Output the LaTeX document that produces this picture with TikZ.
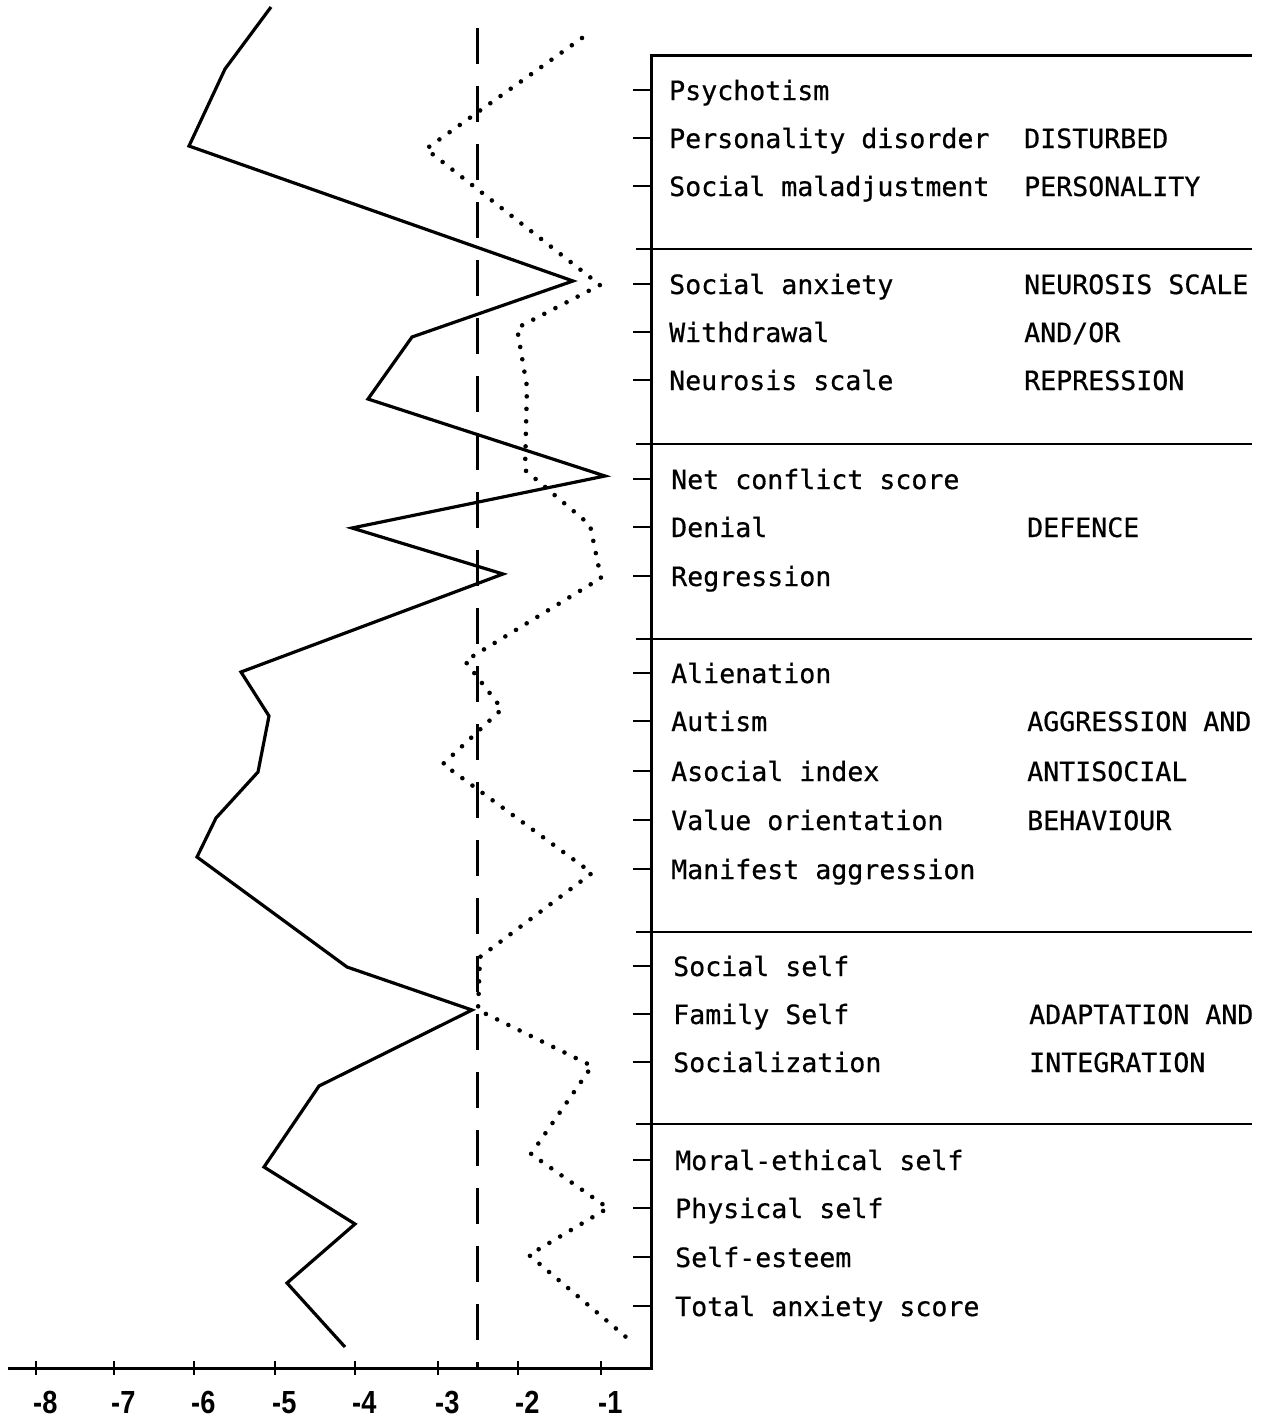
\documentclass[tikz,border=0pt]{standalone}
\usepackage{fontspec}
\newfontfamily\monof[FakeBold=0.6]{DejaVu Sans Mono}
\newfontfamily\axisf[FakeStretch=0.85]{Liberation Sans Bold}
\tikzset{
  ax/.style={line width=3pt},
  rulel/.style={line width=2.5pt},
  tk/.style={line width=2pt},
  solidcurve/.style={line width=3.2pt, line join=miter},
  dotcurve/.style={line width=4.6pt, line cap=round, dash pattern=on 0pt off 12.5pt},
  dashline/.style={line width=3pt, dash pattern=on 36pt off 22pt},
  lab/.style={anchor=base west, inner sep=0pt, font=\monof\fontsize{26.6}{30}\selectfont},
  num/.style={anchor=base west, inner sep=0pt, font=\axisf\fontsize{32}{34}\selectfont},
}
\begin{document}
\begin{tikzpicture}[x=1pt,y=-1pt]
\useasboundingbox (0,0) rectangle (1265,1417);
% axes and frame
\coordinate (xl) at (8,1368);
\coordinate (o) at (651,1368);
\coordinate (tp) at (651,55);
\coordinate (tr) at (1252,55);
\draw[ax] (xl) -- (o) -- (tp) -- (tr);
\foreach \y in {249,444,639,932,1124}{
  \draw[rulel] (636,\y) -- (1252,\y);
}
% row ticks
\foreach \y in {90,138,186,284,332,380,479,527,576,673,721,771,820,869,966,1014,1062,1160,1208,1257,1306}{
  \draw[tk] (633,\y) -- (651,\y);
}
% left labels
\foreach \x/\y/\t/\n in {669/90/Psychotism/1, 669/138/Personality disorder/2, 669/186/Social maladjustment/3,
  669/284/Social anxiety/4, 669/332/Withdrawal/5, 669/380/Neurosis scale/6,
  671/479/Net conflict score/7, 671/527/Denial/8, 671/576/Regression/9,
  671/673/Alienation/10, 671/721/Autism/11, 671/771/Asocial index/12, 671/820/Value orientation/13, 671/869/Manifest aggression/14,
  673/966/Social self/15, 673/1014/Family Self/16, 673/1062/Socialization/17,
  675/1160/Moral-ethical self/18, 675/1208/Physical self/19, 675/1257/Self-esteem/20, 675/1306/Total anxiety score/21}{
  \node[lab] (L\n) at (\x,\y+10) {\t};
}
% right labels
\foreach \x/\y/\t/\n in {1024/138/DISTURBED/1, 1024/186/PERSONALITY/2,
  1024/284/NEUROSIS SCALE/3, 1024/332/{AND/OR}/4, 1024/380/REPRESSION/5,
  1027/527/DEFENCE/6,
  1027/721/AGGRESSION AND/7, 1027/771/ANTISOCIAL/8, 1027/820/BEHAVIOUR/9,
  1029/1014/ADAPTATION AND/10, 1029/1062/INTEGRATION/11}{
  \node[lab] (R\n) at (\x,\y+10) {\t};
}
% dashed reference line
\coordinate (dtop) at (477,28);
\coordinate (dbot) at (477,1368);
\draw[dashline] (dtop) -- (dbot);
% x ticks and labels
\foreach \i/\xx in {8/36, 7/114, 6/194, 5/275, 4/355, 3/438, 2/518, 1/601}{
  \draw[tk] (\xx,1361) -- (\xx,1375);
  \node[num] (N\i) at (\xx-3,1413) {-\i};
}
% solid profile
\draw[solidcurve] (271,7) -- (225,69) -- (189,146) -- (573,281) -- (412,337) -- (368,399)
  -- (605,476) -- (352,528) -- (503,574) -- (241,672) -- (269,716) -- (258,772) -- (216,818)
  -- (197,857) -- (347,967) -- (472,1010) -- (319,1086) -- (264,1167) -- (355,1224)
  -- (287,1283) -- (345,1347);
% dotted profile
\draw[dotcurve] (582,38) -- (426,149) -- (600,285) -- (517,328) -- (527,387) -- (525,470)
  -- (590,525) -- (601,578) -- (465,661) -- (502,709) -- (443,764) -- (592,873)
  -- (480,957) -- (478,1010) -- (592,1066) -- (531,1154) -- (608,1208) -- (529,1255)
  -- (626,1337);
\end{tikzpicture}
\end{document}
